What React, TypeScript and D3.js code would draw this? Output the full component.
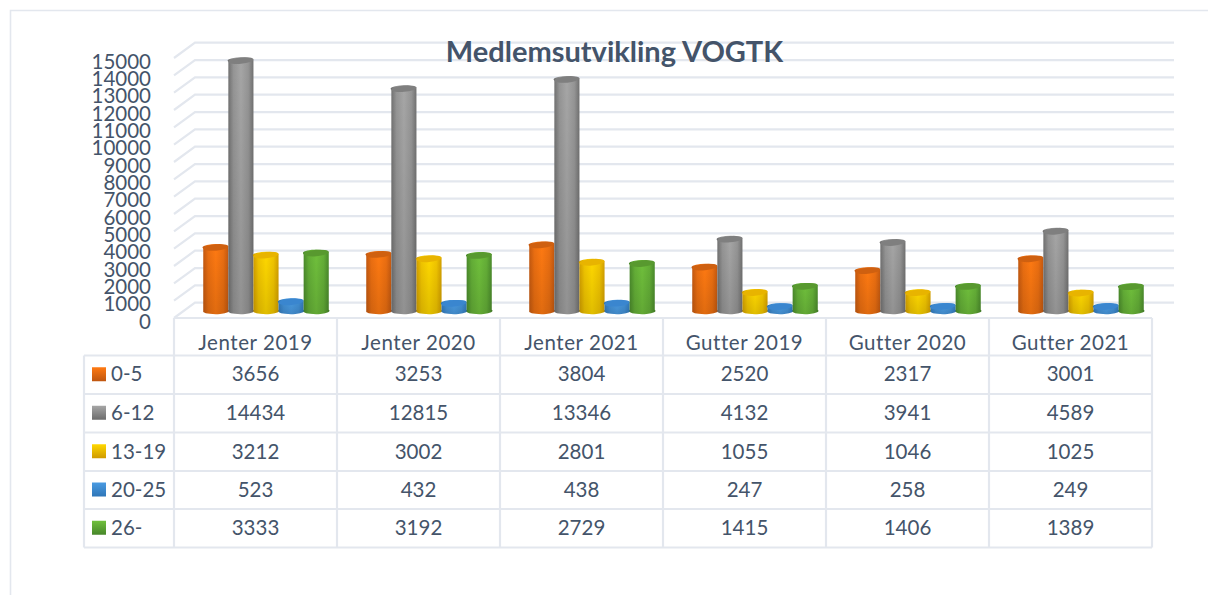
import React from "react";
import * as d3 from "d3";

const categories = ["Jenter 2019", "Jenter 2020", "Jenter 2021", "Gutter 2019", "Gutter 2020", "Gutter 2021"];
const seriesNames = ["0-5", "6-12", "13-19", "20-25", "26-"];
const s05 = [3656, 3253, 3804, 2520, 2317, 3001];
const s612 = [14434, 12815, 13346, 4132, 3941, 4589];
const s1319 = [3212, 3002, 2801, 1055, 1046, 1025];
const s2025 = [523, 432, 438, 247, 258, 249];
const s26 = [3333, 3192, 2729, 1415, 1406, 1389];
const seriesValues = [s05, s612, s1319, s2025, s26];
const yTicks = d3.range(0, 15001, 1000);

const edge = ["#bf5610", "#6c6c6c", "#cf9a00", "#2f76b8", "#47862a"];
const mid = ["#ff7a12", "#a6a6a6", "#ffd800", "#4a9be2", "#70c03c"];
const cap = ["#cf6010", "#7f7f7f", "#e8b400", "#3a86cf", "#58992f"];

const TEXT = "#44546a";
const LINE = "#e3e7ee";
const FONT = "Lato, 'Open Sans', sans-serif";

const x = d3.scaleBand<string>().domain(categories).range([174, 1152]);
const yBack = d3.scaleLinear().domain([0, 15000]).range([302.7, 42.7]);
const yFront = d3.scaleLinear().domain([0, 15000]).range([318, 58]);
const yBar = d3.scaleLinear().domain([0, 15000]).range([310.8, 50.8]);
const rowEdges = [355.5, 394, 432.5, 471, 509, 547.5];
const rowText = [373, 412, 451, 489, 527];
const DX = 21;
const BARW = 25.1;

function cylinder(cx: number, top: number, bottom: number, i: number, key: string) {
  const r = BARW / 2;
  const ry = 3.2;
  const t = 1.1;
  const body = `M${cx - r},${top + t} A${r},${ry} 0 0 1 ${cx + r},${top - t} L${cx + r},${bottom - t} A${r},${ry} 0 0 1 ${cx - r},${bottom + t} Z`;
  const lid = `M${cx - r},${top + t} A${r},${ry} -5 0 1 ${cx + r},${top - t} A${r},${ry} -5 0 1 ${cx - r},${top + t} Z`;
  return (
    <g key={key}>
      <path d={body} fill={`url(#g${i})`} />
      <path d={body} fill="url(#shade)" />
      <path d={lid} fill={cap[i]} />
    </g>
  );
}

export default function App() {
  const bw = x.bandwidth();
  const groupW = BARW * 5;
  return (
    <svg width={1208} height={595} style={{ position: "absolute", left: 0, top: 0, background: "#fff" }} fontFamily={FONT}>
      <defs>
        {edge.map((c, i) => (
          <React.Fragment key={i}>
            <linearGradient id={`g${i}`} x1="0" x2="1" y1="0" y2="0">
              <stop offset="0" stopColor={c} />
              <stop offset="0.22" stopColor={d3.interpolateRgb(c, mid[i])(0.7)} />
              <stop offset="0.5" stopColor={mid[i]} />
              <stop offset="0.78" stopColor={d3.interpolateRgb(c, mid[i])(0.7)} />
              <stop offset="1" stopColor={c} />
            </linearGradient>
            <linearGradient id={`k${i}`} x1="0" x2="0" y1="0" y2="1">
              <stop offset="0" stopColor={mid[i]} />
              <stop offset="1" stopColor={edge[i]} />
            </linearGradient>
          </React.Fragment>
        ))}
        <linearGradient id="shade" x1="0" x2="0" y1="0" y2="1">
          <stop offset="0" stopColor="#000" stopOpacity="0" />
          <stop offset="1" stopColor="#000" stopOpacity="0.12" />
        </linearGradient>
      </defs>

      {/* outer frame */}
      <path d="M10.5,595 V10.5 H1208" fill="none" stroke={LINE} strokeWidth={1.6} />

      {/* gridlines */}
      {yTicks.map((t) => (
        <path key={t} d={`M${x.range()[0]},${yFront(t)} L${x.range()[0] + DX},${yBack(t)} H${x.range()[1] + 22}`} fill="none" stroke={LINE} strokeWidth={2.2} />
      ))}

      {/* bars */}
      {categories.map((c, ci) => {
        const start = x(c)! + bw / 2 + 10.5 - groupW / 2;
        return seriesValues.map((vals, si) =>
          cylinder(start + BARW * (si + 0.5), yBar(vals[ci]), yBar(0), si, `${ci}-${si}`)
        );
      })}

      {/* y axis labels */}
      {yTicks.map((t) => (
        <text key={t} x={151} y={yFront(t) + 2.5} textAnchor="end" dominantBaseline="central" fontSize={20.5} fill={TEXT}>
          {t}
        </text>
      ))}

      {/* title */}
      <text x={614.5} y={62} textAnchor="middle" fontSize={29} fontWeight={700} fill={TEXT}>
        Medlemsutvikling VOGTK
      </text>

      {/* table */}
      <g stroke={LINE} strokeWidth={2.2} fill="none">
        <path d="M174,318 H1152" />
        {rowEdges.map((y, i) => (
          <path key={i} d={`M${84},${y} H1152`} />
        ))}
        <path d={`M84,355.5 V547.5`} />
        {[...categories.map((c) => x(c)!), 1152].map((vx, i) => (
          <path key={i} d={`M${vx},318 V547.5`} />
        ))}
      </g>
      {categories.map((c) => (
        <text key={c} x={x(c)! + bw / 2} y={342} textAnchor="middle" dominantBaseline="central" fontSize={20.5} letterSpacing={0.55} fill={TEXT}>
          {c}
        </text>
      ))}
      {seriesNames.map((n, si) => {
        const cy = (rowEdges[si] + rowEdges[si + 1]) / 2;
        return (
          <g key={n}>
            <rect x={92} y={cy - 7.5} width={14} height={14} fill={`url(#k${si})`} />
            <text x={111} y={rowText[si]} dominantBaseline="central" fontSize={20.5} fill={TEXT}>
              {n}
            </text>
            {categories.map((c, ci) => (
              <text key={c} x={x(c)! + bw / 2} y={rowText[si]} textAnchor="middle" dominantBaseline="central" fontSize={20.5} fill={TEXT}>
                {seriesValues[si][ci]}
              </text>
            ))}
          </g>
        );
      })}
    </svg>
  );
}
